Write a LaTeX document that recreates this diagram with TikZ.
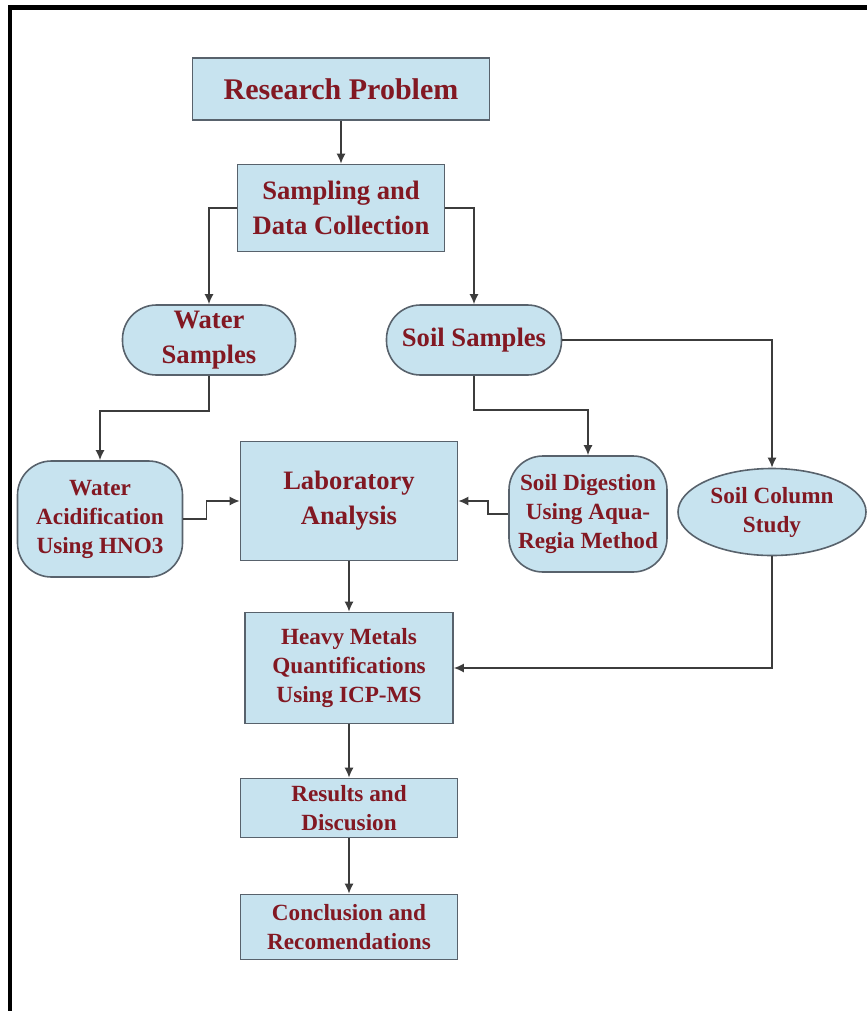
\documentclass[tikz,border=0pt]{standalone}
\usepackage{fontspec}
\setmainfont{Liberation Serif}
\definecolor{boxblue}{RGB}{199, 227, 239}
\definecolor{textred}{RGB}{130, 24, 34}
\definecolor{edgegray}{RGB}{88, 98, 108}
\definecolor{linkgray}{RGB}{60, 60, 60}
\usepackage{tikz}
\usetikzlibrary{shapes.geometric, arrows.meta, positioning, calc}

\begin{document}
\begin{tikzpicture}[x=0.5pt, y=-0.5pt,
    stepbox/.style={rectangle, draw=edgegray, line width=0.8pt, fill=boxblue, text=textred, align=center, inner sep=0pt},
    roundbox/.style={stepbox, rounded corners=17pt},
    ovalbox/.style={ellipse, draw=edgegray, line width=0.8pt, fill=boxblue, text=textred, align=center, inner sep=0pt},
    big/.style={font=\bfseries\fontsize{15}{19}\selectfont},
    mid/.style={font=\bfseries\fontsize{13.3}{17.5}\selectfont},
    small/.style={font=\bfseries\fontsize{11.6}{14.5}\selectfont},
    link/.style={draw=linkgray, line width=0.75pt, -{Latex[length=5pt, width=4.5pt]}}]
  \useasboundingbox (0,0) rectangle (867,1011);

  % Frame
  \fill[black] (8,5) rectangle (867,10);
  \fill[black] (8,5) rectangle (12,1011);

  % Top of the chain
  \node[stepbox, big, minimum width=148.5pt, minimum height=31pt] (prob) at (341, 89) {Research Problem};
  \node[stepbox, mid, minimum width=103.5pt, minimum height=43.5pt] (samp) at (341, 208) {Sampling and\\Data Collection};

  % Samples
  \node[roundbox, mid, minimum width=86.5pt, minimum height=35pt] (water) at (209, 340) {Water\\Samples};
  \node[roundbox, mid, minimum width=87.5pt, minimum height=35pt] (soil) at (474, 340) {Soil Samples};

  % Preparation
  \node[roundbox, small, minimum width=82.5pt, minimum height=58pt] (acid) at (100, 519) {Water\\Acidification\\Using HNO3};
  \node[stepbox, mid, minimum width=108.5pt, minimum height=59.5pt] (lab) at (349, 501) {Laboratory\\Analysis};
  \node[roundbox, small, minimum width=79pt, minimum height=58pt] (digest) at (588, 514) {Soil Digestion\\Using Aqua-\\Regia Method};
  \node[ovalbox, small, minimum width=94pt, minimum height=43.5pt] (column) at (772, 512) {Soil Column\\Study};

  % Analysis and results
  \node[stepbox, small, minimum width=104pt, minimum height=55.5pt] (heavy) at (349, 668) {Heavy Metals\\Quantifications\\Using ICP-MS};
  \node[stepbox, small, minimum width=108.5pt, minimum height=29.5pt] (res) at (349, 808) {Results and\\Discusion};
  \node[stepbox, small, minimum width=108.5pt, minimum height=32.5pt] (concl) at (349, 927) {Conclusion and\\Recomendations};

  % Connectors
  \draw[link] (prob) -- (samp);
  \draw[link] (samp.west) -| (water.north);
  \draw[link] (samp.east) -| (soil.north);
  \draw[link] (water.south) -- ++(0,35) -| (acid.north);
  \draw[link] (soil.south) -- ++(0,34) -| (digest.north);
  \draw[link] (soil.east) -| (column.north);
  \draw[link] (acid.east) -- ++(23,0) |- (lab.west);
  \draw[link] (digest.west) -- ++(-20,0) |- (lab.east);
  \draw[link] (lab) -- (heavy);
  \draw[link] (column.south) |- (heavy.east);
  \draw[link] (heavy) -- (res);
  \draw[link] (res) -- (concl);
\end{tikzpicture}
\end{document}
